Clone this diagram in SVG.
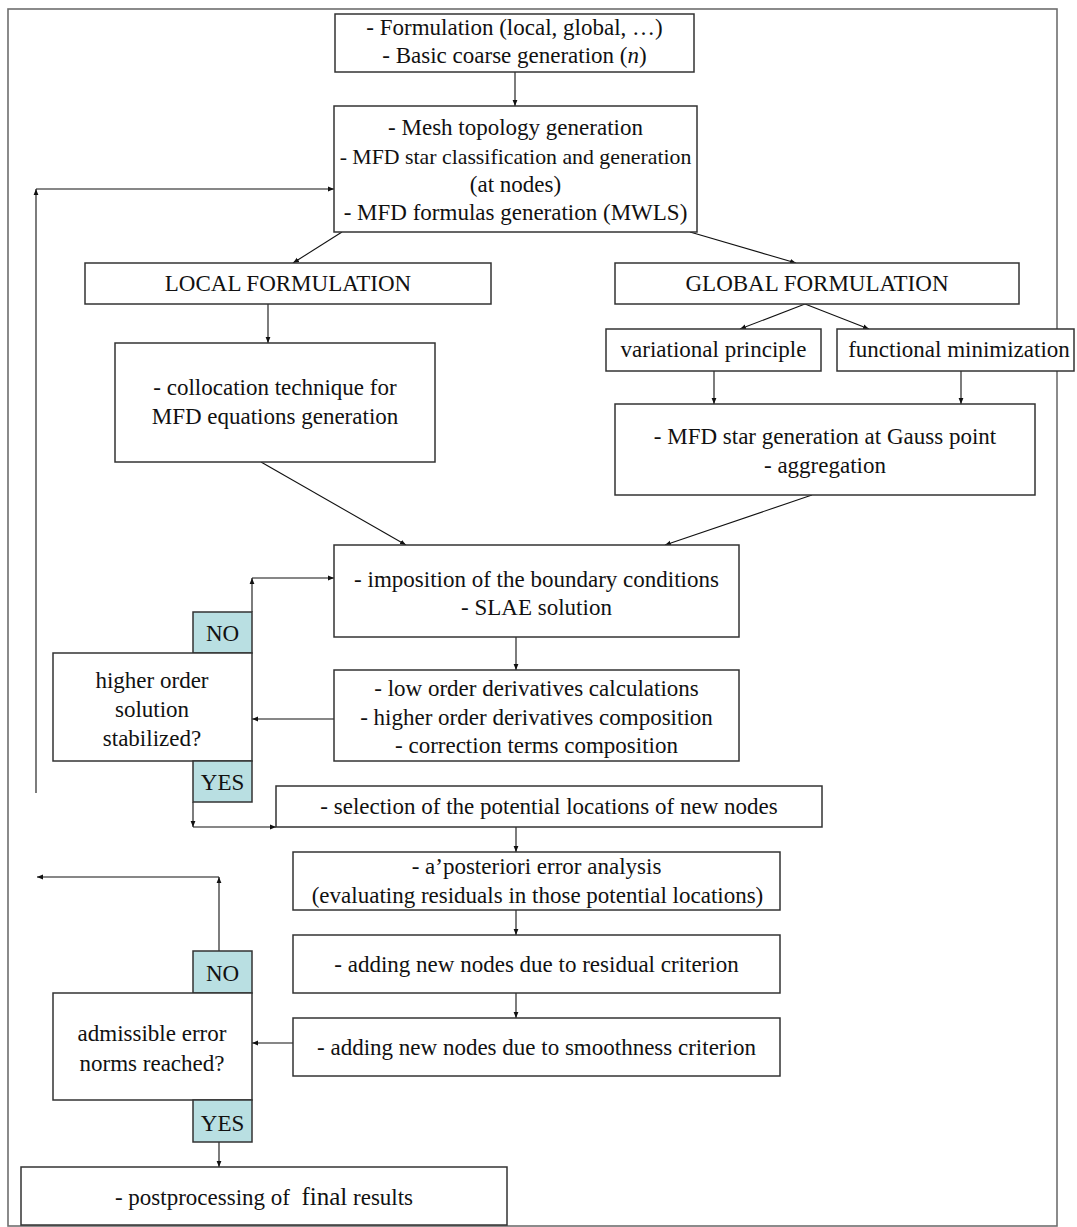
<svg xmlns="http://www.w3.org/2000/svg" width="1077" height="1227" viewBox="0 0 1077 1227">
  <defs>
    <style>
      .box { fill: #ffffff; stroke: #333333; stroke-width: 1.5; }
      .tag { fill: #b9dfe2; stroke: #333333; stroke-width: 1.5; }
      .frame { fill: none; stroke: #6e6e6e; stroke-width: 1.6; }
      .t { font-family: "Liberation Serif", "Times New Roman", serif; font-size: 23px; fill: #111111; text-anchor: middle; white-space: pre; }
      .c { fill: none; stroke: #111111; stroke-width: 1.1; }
    </style>
    <marker id="ah" viewBox="0 0 10 10" refX="10" refY="5" markerWidth="6" markerHeight="6" markerUnits="userSpaceOnUse" orient="auto">
      <path d="M0,1 L10,5 L0,9 Z" fill="#111111"/>
    </marker>
  </defs>

  <!-- outer frame -->
  <rect class="frame" x="8" y="9" width="1049" height="1217"/>

  <!-- connectors -->
  <g id="connectors">
    <line class="c" x1="515" y1="72" x2="515" y2="106" marker-end="url(#ah)"/>
    <line class="c" x1="342" y1="232" x2="293" y2="263" marker-end="url(#ah)"/>
    <line class="c" x1="690" y1="232" x2="796" y2="263" marker-end="url(#ah)"/>
    <line class="c" x1="268" y1="304" x2="268" y2="343" marker-end="url(#ah)"/>
    <line class="c" x1="805" y1="304" x2="740" y2="329" marker-end="url(#ah)"/>
    <line class="c" x1="805" y1="304" x2="869" y2="329" marker-end="url(#ah)"/>
    <line class="c" x1="714" y1="371" x2="714" y2="404" marker-end="url(#ah)"/>
    <line class="c" x1="961" y1="371" x2="961" y2="404" marker-end="url(#ah)"/>
    <line class="c" x1="261" y1="462" x2="406" y2="545" marker-end="url(#ah)"/>
    <line class="c" x1="812" y1="495" x2="665" y2="545" marker-end="url(#ah)"/>
    <line class="c" x1="516" y1="637" x2="516" y2="670" marker-end="url(#ah)"/>
    <line class="c" x1="334" y1="719" x2="252" y2="719" marker-end="url(#ah)"/>
    <!-- NO branch of the stabilization check -->
    <line class="c" x1="252" y1="612" x2="252" y2="578" marker-end="url(#ah)"/>
    <line class="c" x1="252" y1="578" x2="334" y2="578" marker-end="url(#ah)"/>
    <!-- YES branch of the stabilization check -->
    <line class="c" x1="193" y1="802" x2="193" y2="827" marker-end="url(#ah)"/>
    <line class="c" x1="193" y1="827" x2="276" y2="827" marker-end="url(#ah)"/>
    <!-- outer refinement loop back to mesh generation -->
    <line class="c" x1="36" y1="793" x2="36" y2="189" marker-end="url(#ah)"/>
    <line class="c" x1="36" y1="189" x2="334" y2="189" marker-end="url(#ah)"/>
    <line class="c" x1="516" y1="827" x2="516" y2="852" marker-end="url(#ah)"/>
    <line class="c" x1="516" y1="910" x2="516" y2="935" marker-end="url(#ah)"/>
    <line class="c" x1="516" y1="993" x2="516" y2="1018" marker-end="url(#ah)"/>
    <line class="c" x1="293" y1="1043" x2="252" y2="1043" marker-end="url(#ah)"/>
    <!-- NO branch of the error-norm check -->
    <line class="c" x1="219" y1="951" x2="219" y2="877" marker-end="url(#ah)"/>
    <line class="c" x1="219" y1="877" x2="37" y2="877" marker-end="url(#ah)"/>
    <line class="c" x1="219" y1="1142" x2="219" y2="1167" marker-end="url(#ah)"/>
  </g>

  <g id="formulation">
    <rect class="box" x="335" y="14" width="359" height="58"/>
    <text class="t" x="514.5" y="35">- Formulation (local, global, …)</text>
    <text class="t" x="514.5" y="63">- Basic coarse generation (<tspan font-style="italic">n</tspan>)</text>
  </g>

  <g id="mesh">
    <rect class="box" x="334" y="106" width="363" height="126"/>
    <text class="t" x="515.5" y="135">- Mesh topology generation</text>
    <text class="t" x="515.5" y="164" style="font-size:21.8px">- MFD star classification and generation</text>
    <text class="t" x="515.5" y="192">(at nodes)</text>
    <text class="t" x="515.5" y="220">- MFD formulas generation (MWLS)</text>
  </g>

  <g id="local">
    <rect class="box" x="85" y="263" width="406" height="41"/>
    <text class="t" x="288" y="291">LOCAL FORMULATION</text>
  </g>

  <g id="global">
    <rect class="box" x="615" y="263" width="404" height="41"/>
    <text class="t" x="817" y="291">GLOBAL FORMULATION</text>
  </g>

  <g id="variational">
    <rect class="box" x="606" y="329" width="215" height="42"/>
    <text class="t" x="713.5" y="357">variational principle</text>
  </g>

  <g id="functional">
    <rect class="box" x="837" y="329" width="237" height="42"/>
    <text class="t" x="959" y="357">functional minimization</text>
  </g>

  <g id="collocation">
    <rect class="box" x="115" y="343" width="320" height="119"/>
    <text class="t" x="275" y="395">- collocation technique for</text>
    <text class="t" x="275" y="424">MFD equations generation</text>
  </g>

  <g id="gauss">
    <rect class="box" x="615" y="404" width="420" height="91"/>
    <text class="t" x="825" y="444">- MFD star generation at Gauss point</text>
    <text class="t" x="825" y="473">- aggregation</text>
  </g>

  <g id="imposition">
    <rect class="box" x="334" y="545" width="405" height="92"/>
    <text class="t" x="536.5" y="587">- imposition of the boundary conditions</text>
    <text class="t" x="536.5" y="615">- SLAE solution</text>
  </g>

  <g id="derivatives">
    <rect class="box" x="334" y="670" width="405" height="91"/>
    <text class="t" x="536.5" y="696">- low order derivatives calculations</text>
    <text class="t" x="536.5" y="725">- higher order derivatives composition</text>
    <text class="t" x="536.5" y="753">- correction terms composition</text>
  </g>

  <g id="stabilized">
    <rect class="tag" x="193" y="612" width="59" height="41"/>
    <text class="t" x="222.5" y="641">NO</text>
    <rect class="box" x="53" y="653" width="199" height="108"/>
    <text class="t" x="152" y="688">higher order</text>
    <text class="t" x="152" y="717">solution</text>
    <text class="t" x="152" y="746">stabilized?</text>
    <rect class="tag" x="193" y="761" width="59" height="41"/>
    <text class="t" x="222.5" y="790">YES</text>
  </g>

  <g id="selection">
    <rect class="box" x="276" y="786" width="546" height="41"/>
    <text class="t" x="549" y="814">- selection of the potential locations of new nodes</text>
  </g>

  <g id="aposteriori">
    <rect class="box" x="293" y="852" width="487" height="58"/>
    <text class="t" x="536.5" y="874">- a’posteriori error analysis</text>
    <text class="t" x="537.5" y="903">(evaluating residuals in those potential locations)</text>
  </g>

  <g id="residual">
    <rect class="box" x="293" y="935" width="487" height="58"/>
    <text class="t" x="536.5" y="972">- adding new nodes due to residual criterion</text>
  </g>

  <g id="smoothness">
    <rect class="box" x="293" y="1018" width="487" height="58"/>
    <text class="t" x="536.5" y="1055">- adding new nodes due to smoothness criterion</text>
  </g>

  <g id="admissible">
    <rect class="tag" x="193" y="951" width="59" height="42"/>
    <text class="t" x="222.5" y="981">NO</text>
    <rect class="box" x="53" y="993" width="199" height="107"/>
    <text class="t" x="152" y="1041">admissible error</text>
    <text class="t" x="152" y="1071">norms reached?</text>
    <rect class="tag" x="193" y="1100" width="59" height="42"/>
    <text class="t" x="222.5" y="1131">YES</text>
  </g>

  <g id="postprocessing">
    <rect class="box" x="21" y="1167" width="486" height="58"/>
    <text class="t" x="264" y="1205">- postprocessing of  <tspan style="font-size:25px">final</tspan> results</text>
  </g>
</svg>
